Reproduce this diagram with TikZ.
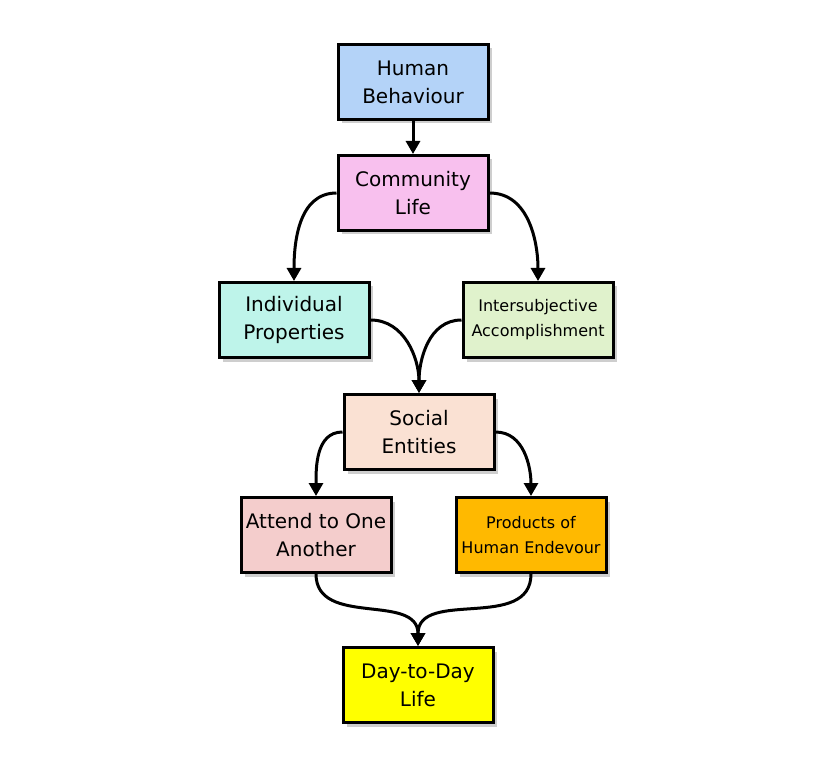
\documentclass[tikz,border=0pt]{standalone}
\usepackage{fontspec}
\setmainfont{DejaVu Sans}
\usetikzlibrary{shadows,arrows.meta}
\definecolor{cHB}{HTML}{B4D3F8}
\definecolor{cCL}{HTML}{F8C0EE}
\definecolor{cIP}{HTML}{BEF4EA}
\definecolor{cIA}{HTML}{E0F2CC}
\definecolor{cSE}{HTML}{FAE1D3}
\definecolor{cAT}{HTML}{F4CDCC}
\definecolor{cPR}{HTML}{FFB900}
\definecolor{cDD}{HTML}{FFFF00}
\begin{document}
\begin{tikzpicture}[x=1pt,y=-1pt,
  box/.style={draw=black,line width=3pt,minimum width=150pt,minimum height=75pt,
    align=center,inner sep=2pt,font=\fontsize{20}{28}\selectfont,
    drop shadow={shadow xshift=4pt,shadow yshift=-4pt,fill=gray!55,opacity=.7}},
  small/.style={font=\fontsize{16}{25}\selectfont},
  conn/.style={line width=3pt,-{Triangle[length=13pt,width=14pt]}}]
\useasboundingbox (0,0) rectangle (840,775);
\node[box,fill=cHB] (hb) at (413,82) {Human\\Behaviour};
\node[box,fill=cCL] (cl) at (413,193) {Community\\Life};
\node[box,fill=cIP] (ip) at (294,320) {Individual\\Properties};
\node[box,fill=cIA,small] (ia) at (538,320) {Intersubjective\\Accomplishment};
\node[box,fill=cSE] (se) at (419,432) {Social\\Entities};
\node[box,fill=cAT] (at) at (316,535) {Attend to One\\Another};
\node[box,fill=cPR,small] (pr) at (531,535) {Products of\\Human Endevour};
\node[box,fill=cDD] (dd) at (418,685) {Day-to-Day\\Life};
\draw[conn] (hb) -- (cl);
\draw[conn] (cl.west) to[out=180,in=90] (ip.north);
\draw[conn] (cl.east) to[out=0,in=90] (ia.north);
\draw[conn] (ip.east) to[out=0,in=90] (se.north);
\draw[conn] (ia.west) to[out=180,in=90] (se.north);
\draw[conn] (se.west) to[out=180,in=90] (at.north);
\draw[conn] (se.east) to[out=0,in=90] (pr.north);
\draw[conn] (at.south) to[out=-90,in=90,looseness=1.1] (dd.north);
\draw[conn] (pr.south) to[out=-90,in=90,looseness=1.1] (dd.north);
\end{tikzpicture}
\end{document}
